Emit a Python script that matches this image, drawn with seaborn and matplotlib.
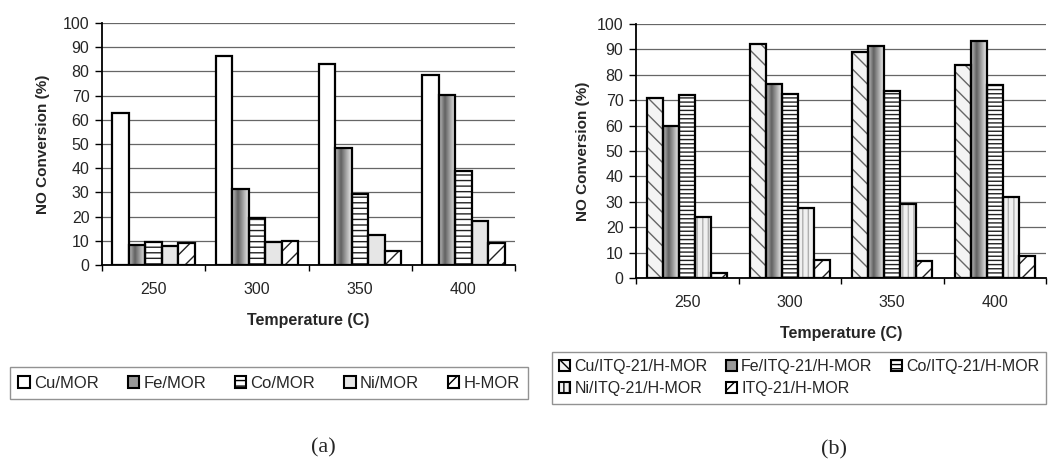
import numpy as np
import pandas as pd
import seaborn as sns
import matplotlib
matplotlib.use("Agg")
import matplotlib.pyplot as plt
from matplotlib.patches import Patch, Rectangle

# ---------------- data ----------------
temps = ["250", "300", "350", "400"]

series_a = ["Cu/MOR", "Fe/MOR", "Co/MOR", "Ni/MOR", "H-MOR"]
cu_mor = [63, 86.4, 83.2, 78.6]
fe_mor = [8.4, 31.2, 48.5, 70.2]
co_mor = [9.4, 19.3, 29.3, 38.8]
ni_mor = [7.7, 9.4, 12.5, 18.0]
h_mor = [9.1, 10.0, 5.9, 9.0]

series_b = ["Cu/ITQ-21/H-MOR", "Fe/ITQ-21/H-MOR", "Co/ITQ-21/H-MOR",
            "Ni/ITQ-21/H-MOR", "ITQ-21/H-MOR"]
cu_itq = [71, 92, 89, 84]
fe_itq = [60, 76.5, 91.5, 93.5]
co_itq = [72, 72.4, 73.8, 76]
ni_itq = [24.2, 27.5, 29, 31.7]
itq = [2, 7, 6.8, 8.6]

yticks = list(range(0, 101, 10))

# ---------------- style ----------------
sns.set_theme(style="white")
plt.rcParams["font.family"] = ["Liberation Sans", "DejaVu Sans"]
plt.rcParams["hatch.linewidth"] = 1.0

W, H = 1050, 465
fig = plt.figure(figsize=(W / 100, H / 100), dpi=100)
fig.patch.set_facecolor("white")


def fx(px):
    return px / W


def fy(py):
    return 1 - py / H


def long_df(series, cols):
    rows = []
    for s, vals in zip(series, cols):
        for t, v in zip(temps, vals):
            rows.append({"Temperature": t, "Catalyst": s, "Conversion": v})
    return pd.DataFrame(rows)


# gradient used for the "Fe" bars (dark left-centre, light right)
grad = np.interp(np.linspace(0, 1, 64), [0, 0.35, 1.0], [0.75, 0.38, 0.93])[None, :]


def style_bars(ax, container, face, hatch=None, hatch_color="black", gradient=False):
    for p in container.patches:
        z = p.get_zorder()
        if gradient:
            p.set_facecolor("none")
            x0, y0 = p.get_xy()
            im = ax.imshow(grad, extent=[x0, x0 + p.get_width(), y0, y0 + p.get_height()],
                           aspect="auto", cmap="gray", vmin=0, vmax=1, zorder=z,
                           interpolation="bilinear")
            im.set_clip_path(p)
            p.set_edgecolor("black")
            p.set_linewidth(1.6)
            p.set_zorder(z + 0.2)
            continue
        p.set_facecolor(face)
        if hatch:
            p.set_hatch(hatch)
            p.set_edgecolor(hatch_color)
            p.set_linewidth(0)
            ax.add_patch(Rectangle(p.get_xy(), p.get_width(), p.get_height(),
                                   fill=False, edgecolor="black", linewidth=1.6,
                                   zorder=z + 0.2))
        else:
            p.set_edgecolor("black")
            p.set_linewidth(1.6)


def setup_axes(ax, xpad, ypad):
    ax.set_ylim(0, 100)
    ax.set_xlim(-0.5, 3.5)
    ax.set_yticks(yticks)
    ax.set_yticklabels([str(v) for v in yticks], fontsize=11.5)
    ax.yaxis.grid(True, color="#666666", linewidth=0.9)
    ax.xaxis.grid(False)
    ax.set_axisbelow(True)
    for s in ["top", "right"]:
        ax.spines[s].set_visible(False)
    for s in ["left", "bottom"]:
        ax.spines[s].set_visible(True)
        ax.spines[s].set_color("black")
        ax.spines[s].set_linewidth(1.3)
    ax.tick_params(axis="y", which="major", direction="out", length=5, width=1,
                   color="black", pad=4, left=True)
    ax.tick_params(axis="x", which="major", length=0, pad=12, labelsize=11.5)
    ax.set_xticks([-0.5, 0.5, 1.5, 2.5, 3.5], minor=True)
    ax.tick_params(axis="x", which="minor", direction="out", length=4, width=1,
                   color="black", bottom=True)
    ax.set_ylabel("NO Conversion (%)", fontsize=11, fontweight="bold", labelpad=ypad)
    ax.set_xlabel("Temperature (C)", fontsize=11.5, fontweight="bold", labelpad=xpad)


# ---------------- chart (a) ----------------
ax_a = fig.add_axes([fx(102), fy(265), fx(515) - fx(102), fy(23) - fy(265)])
df_a = long_df(series_a, [cu_mor, fe_mor, co_mor, ni_mor, h_mor])
sns.barplot(data=df_a, x="Temperature", y="Conversion", hue="Catalyst",
            order=temps, hue_order=series_a, palette=["white"] * 5,
            width=0.8, gap=0, legend=False, ax=ax_a, errorbar=None)
style_a = [
    dict(face="white"),
    dict(face="#999999", gradient=True),
    dict(face="white", hatch="---", hatch_color="#222222"),
    dict(face="#e6e6e6"),
    dict(face="white", hatch="//", hatch_color="#222222"),
]
for cont, st in zip(ax_a.containers, style_a):
    style_bars(ax_a, cont, **st)
setup_axes(ax_a, 12, 9)

# ---------------- chart (b) ----------------
ax_b = fig.add_axes([fx(636), fy(278), fx(1046) - fx(636), fy(24) - fy(278)])
df_b = long_df(series_b, [cu_itq, fe_itq, co_itq, ni_itq, itq])
sns.barplot(data=df_b, x="Temperature", y="Conversion", hue="Catalyst",
            order=temps, hue_order=series_b, palette=["white"] * 5,
            width=0.78, gap=0, legend=False, ax=ax_b, errorbar=None)
style_b = [
    dict(face="#f4f4f4", hatch="\\\\", hatch_color="#666666"),
    dict(face="#999999", gradient=True),
    dict(face="white", hatch="----", hatch_color="#222222"),
    dict(face="#f0f0f0", hatch="|||", hatch_color="#b0b0b0"),
    dict(face="white", hatch="//", hatch_color="#222222"),
]
for cont, st in zip(ax_b.containers, style_b):
    style_bars(ax_b, cont, **st)
setup_axes(ax_b, 12, 5)


# ---------------- legends ----------------
def handle(st):
    return Patch(facecolor=st["face"], hatch=st.get("hatch"),
                 edgecolor="black", linewidth=1.5)


h_a = [handle(st) for st in style_a]
leg_a = fig.legend(h_a, series_a, ncol=5, loc="lower left", mode="expand",
                   bbox_to_anchor=(fx(10), fy(399), fx(528) - fx(10), fy(363) - fy(399)),
                   fontsize=12, frameon=True, fancybox=False, borderaxespad=0,
                   handlelength=0.7, handleheight=0.7, handletextpad=0.25,
                   borderpad=0.5)
leg_a.get_frame().set_edgecolor("#777777")
leg_a.get_frame().set_linewidth(1.0)

h_b = [handle(st) for st in style_b]
order_b = [0, 3, 1, 4, 2]
leg_b = fig.legend([h_b[i] for i in order_b], [series_b[i] for i in order_b], ncol=3,
                   loc="upper left",
                   bbox_to_anchor=(fx(552), fy(352)),
                   fontsize=11.5, frameon=True, fancybox=False, borderaxespad=0,
                   handlelength=0.7, handleheight=0.7, handletextpad=0.25,
                   borderpad=0.45, labelspacing=0.45, columnspacing=1.15)
leg_b.get_frame().set_edgecolor("#777777")
leg_b.get_frame().set_linewidth(1.0)

# ---------------- captions ----------------
fig.text(fx(323), fy(448), "(a)", ha="center", va="center", fontsize=16,
         family=["Liberation Serif", "DejaVu Serif"])
fig.text(fx(834), fy(450), "(b)", ha="center", va="center", fontsize=16,
         family=["Liberation Serif", "DejaVu Serif"])

fig.savefig("out.png", dpi=100, facecolor="white")
